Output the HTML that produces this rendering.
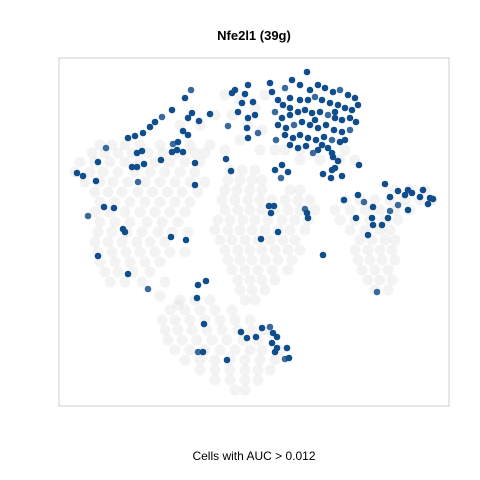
<!DOCTYPE html>
<html><head><meta charset="utf-8"><style>
body{margin:0;background:#fff;}
svg{display:block;font-family:"Liberation Sans",sans-serif;}
</style></head><body>
<svg id="chart" width="480" height="480">
<rect width="480" height="480" fill="#fff"/>
<text x="254" y="40" text-anchor="middle" font-size="13" font-weight="bold" fill="#000">Nfe2l1 (39g)</text>
<text x="254" y="460" text-anchor="middle" font-size="12" fill="#000">Cells with AUC &gt; 0.012</text>
<rect x="59" y="58" width="390" height="348" fill="none" stroke="#cfcfcf" stroke-width="1"/>
<g id="grey"></g>
<g id="blue"></g>
</svg>
<script>
// grey (low-AUC) cells, given as rows: tsne2 value, then tsne1 values
const greyRows = [
[145,[100,112,125,140,160,175,190]],[153,[92,105,118,132,148,163,178,195,205]],
[162,[80,95,110,125,140,155,170,185,200]],[172,[75,90,103,118,135,150,165,180,195]],
[182,[85,100,113,128,145,160,175,190,205]],[192,[95,108,122,138,152,168,182,198]],
[202,[100,115,130,145,160,175,190]],[212,[95,110,125,140,155,170,185]],
[222,[100,115,130,147,162,178]],[232,[98,112,127,142,158,172,188]],
[242,[95,108,122,137,150,165]],[252,[98,112,126,140,155,170,185]],
[262,[100,115,130,145,160]],[272,[105,118,133,150]],[282,[110,125,142,165]],
[296,[160]],[305,[178]],
[95,[225,265]],[100,[240]],[108,[255]],[115,[232,215]],[125,[248,180,200]],[130,[262]],
[140,[240]],[150,[225,260,275,285,300,345]],[145,[210]],[160,[300,320,340,355]],
[170,[230,242,255]],[180,[228,240,252,262]],[190,[225,237,250,262,290,300]],
[200,[222,235,248,260,272,285,298,310,345,360,375,390,405,420,432]],
[210,[225,238,250,262,275,288,300,315,335,350,365,380,395,410]],
[220,[218,230,243,255,268,282,295,308,340,355,370,385,398]],
[230,[215,228,240,252,265,278,290,305,350,365,380,390]],
[240,[220,232,245,258,270,283,295,360,372,385,395]],
[250,[225,238,250,262,275,288,300,355,368,380,392]],
[260,[228,240,252,265,278,292,358,370,382,395]],
[270,[232,245,258,272,288,362,375,388]],
[280,[238,250,262,275,368,380,392]],
[290,[240,252,265,375,388]],[190,[395,410,425]],
[300,[245,255,180,195,210]],[310,[170,185,200,215,232]],
[320,[162,175,190,205,220,235,250]],[330,[165,178,192,207,222,238,252,265]],
[340,[168,182,197,212,227,243,258]],[350,[175,190,205,220,235,250,262,280]],
[360,[185,200,215,230,245,260,275]],[370,[200,215,230,245,258,270]],
[380,[215,230,245,258]],[390,[235,245]]
];
// high-AUC cells
const blueX = [270,272,278,285,292,300,310,318,325,333,340,348,355,283,290,300,308,315,322,330,338,345,352,358,275,282,290,298,305,312,320,328,335,342,350,356,278,286,294,302,310,318,326,334,342,350,285,293,300,308,316,324,332,340,290,298,306,318,328,276,315,322,335,345,290,
307,191,185,235,248,232,245,172,162,155,150,192,188,199,210,228,238,248,255,253,242,247,258,248,143,135,128,183,188,173,178,172,177,183,142,137,106,98,132,137,144,161,195,138,77,83,96,195,226,231,88,104,114,123,125,98,128,148,171,186,198,206,197,204,198,203,227,241,247,256,262,270,273,277,272,277,275,287,285,289,261,269,274,271,278,305,307,308,323,275,282,288,281,323,331,332,335,342,359,313,332,333,338,385,344,358,364,373,398,405,408,412,390,398,408,420,423,430,433,428,390,388,372,356,373,382,368,377];
const blueY = [83,92,100,88,80,85,90,85,88,92,90,95,98,105,98,100,100,97,100,103,105,108,110,105,112,118,115,112,110,113,112,115,118,120,118,122,125,128,125,122,125,128,125,130,132,130,135,138,135,138,140,137,140,142,145,148,146,150,148,140,120,145,112,140,108,
72,90,98,90,85,93,94,110,117,122,127,113,118,121,114,126,112,118,115,102,103,128,133,138,133,136,138,131,135,144,142,152,150,152,151,153,148,162,167,167,164,160,163,182,173,176,181,185,159,171,216,207,208,229,232,256,274,289,237,240,285,281,298,324,352,352,360,332,338,337,328,327,333,337,343,348,352,348,359,358,239,206,206,213,232,209,213,218,255,170,165,172,178,174,178,170,168,176,165,153,153,157,161,184,200,195,202,207,191,195,190,193,197,205,210,197,190,198,199,204,211,218,218,218,225,225,235,292];

const xScale = v => 59 + (v - 59) * (390 / 390);
const yScale = v => 58 + (v - 58) * (348 / 348);
const NS = "http://www.w3.org/2000/svg";
const gG = document.getElementById("grey");
greyRows.forEach(function(row){
  row[1].forEach(function(x){
    const c = document.createElementNS(NS, "circle");
    c.setAttribute("cx", xScale(x));
    c.setAttribute("cy", yScale(row[0]));
    c.setAttribute("r", 5.5);
    c.setAttribute("fill", "#e4e4e4");
    c.setAttribute("fill-opacity", "0.45");
    
    
    gG.appendChild(c);
  });
});
const bG = document.getElementById("blue");
blueX.forEach(function(x, i){
  const c = document.createElementNS(NS, "circle");
  c.setAttribute("cx", xScale(x));
  c.setAttribute("cy", yScale(blueY[i]));
  c.setAttribute("r", 3.3);
  c.setAttribute("fill", i % 7 === 3 ? "#3a6a9c" : "#0f4d8c");
  
  
  bG.appendChild(c);
});
</script>
</body></html>
